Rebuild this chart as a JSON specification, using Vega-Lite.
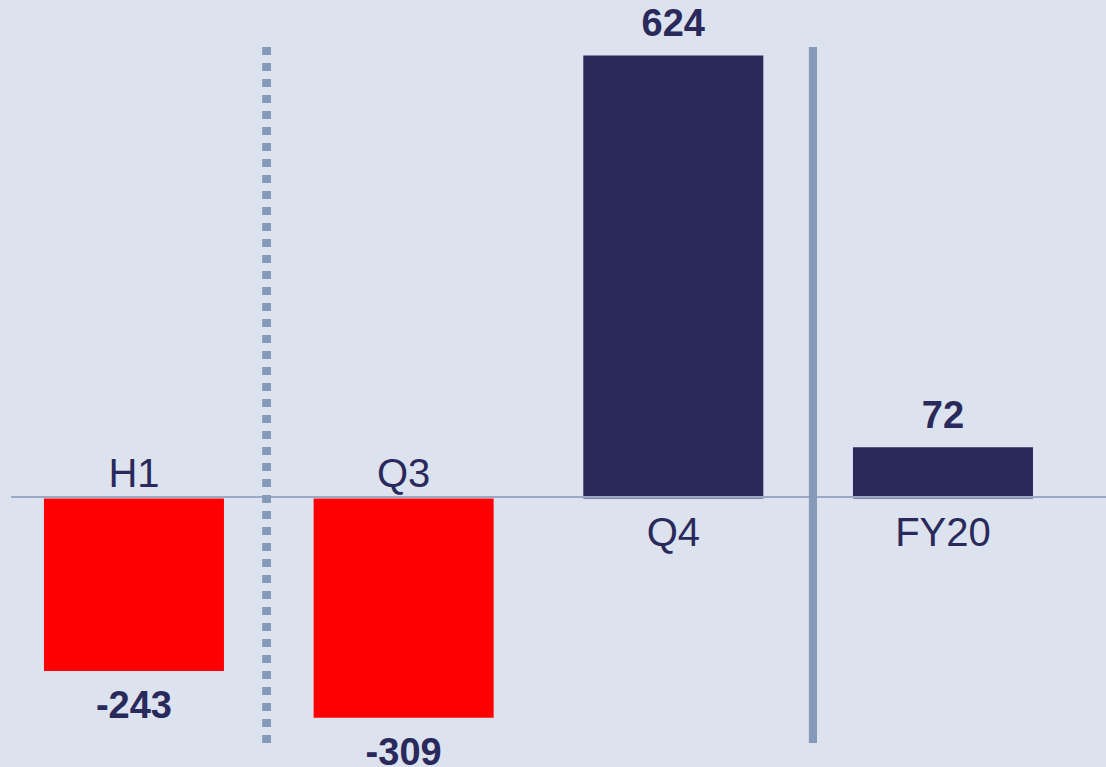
{
  "$schema": "https://vega.github.io/schema/vega-lite/v6.json",
  "autosize": {"type": "none"},
  "width": 1095,
  "height": 696,
  "padding": {"left": 11, "top": 47, "right": 0, "bottom": 24},
  "background": "#dce2ee",
  "config": {"view": {"stroke": null}, "font": "Liberation Sans"},
  "data": {"values": [
    {"period": "H1", "value": -243},
    {"period": "Q3", "value": -309},
    {"period": "Q4", "value": 624},
    {"period": "FY20", "value": 72}
  ]},
  "encoding": {
    "x": {"field": "period", "type": "nominal", "sort": null, "axis": null,
      "scale": {"domain": ["H1", "Q3", "Q4", "FY20"], "paddingInner": 0.3325, "paddingOuter": 0.1965, "align": 0.311}}
  },
  "layer": [
    {
      "mark": {"type": "bar"},
      "encoding": {
        "y": {"field": "value", "type": "quantitative", "axis": null,
          "scale": {"domain": [-344.4, 635.9], "nice": false, "zero": true}},
        "color": {"condition": {"test": "datum.value < 0", "value": "#ff0000"}, "value": "#29295b"}
      }
    },
    {
      "mark": {"type": "rule", "color": "#9aaac6", "strokeWidth": 1.5, "yOffset": -1.5},
      "encoding": {"y": {"datum": 0, "type": "quantitative"}, "x": null}
    },
    {
      "mark": {"type": "rule", "color": "#8599b8", "strokeWidth": 8, "strokeDash": [8, 8], "xOffset": -47},
      "encoding": {"x": {"datum": "Q3", "type": "nominal", "bandPosition": 0}}
    },
    {
      "mark": {"type": "rule", "color": "#8599b8", "strokeWidth": 8, "xOffset": -40},
      "encoding": {"x": {"datum": "FY20", "type": "nominal", "bandPosition": 0}}
    },
    {
      "transform": [{"filter": "datum.value >= 0"}],
      "mark": {"type": "text", "font": "Liberation Sans", "fontWeight": "bold", "fontSize": 38, "color": "#29295b", "baseline": "alphabetic", "dy": -19},
      "encoding": {
        "y": {"field": "value", "type": "quantitative"},
        "text": {"field": "value", "type": "nominal"}
      }
    },
    {
      "transform": [{"filter": "datum.value < 0"}],
      "mark": {"type": "text", "font": "Liberation Sans", "fontWeight": "bold", "fontSize": 38, "color": "#29295b", "baseline": "alphabetic", "dy": 47},
      "encoding": {
        "y": {"field": "value", "type": "quantitative"},
        "text": {"field": "value", "type": "nominal"}
      }
    },
    {
      "transform": [{"filter": "datum.value < 0"}],
      "mark": {"type": "text", "font": "Liberation Sans", "fontSize": 40, "color": "#29295b", "baseline": "alphabetic", "dy": -11.5},
      "encoding": {
        "y": {"datum": 0, "type": "quantitative"},
        "text": {"field": "period", "type": "nominal"}
      }
    },
    {
      "transform": [{"filter": "datum.value >= 0"}],
      "mark": {"type": "text", "font": "Liberation Sans", "fontSize": 40, "color": "#29295b", "baseline": "alphabetic", "dy": 47.5},
      "encoding": {
        "y": {"datum": 0, "type": "quantitative"},
        "text": {"field": "period", "type": "nominal"}
      }
    }
  ]
}
